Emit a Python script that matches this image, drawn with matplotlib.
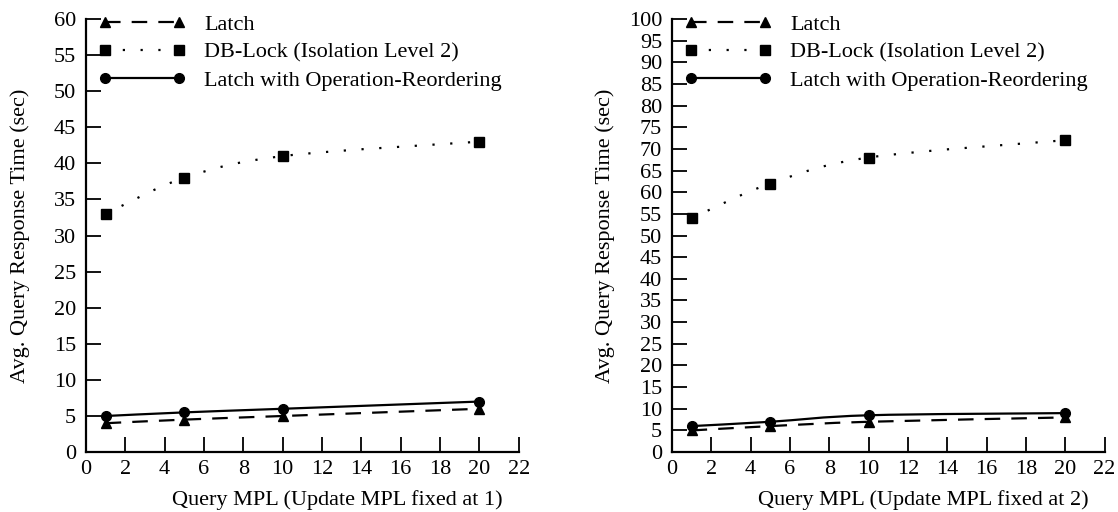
#!/usr/bin/env python3
"""Query response time vs query MPL, two panels."""

import matplotlib
matplotlib.use("Agg")
import matplotlib.pyplot as plt
import numpy as np
from matplotlib.path import Path
from matplotlib.patches import PathPatch
from matplotlib.lines import Line2D

plt.rcParams["font.family"] = ["Liberation Serif", "DejaVu Serif"]
plt.rcParams["font.size"] = 16

query_mpl = [1, 5, 10, 20]

# update MPL fixed at 1
latch_1 = [4, 4.5, 5, 6]
dblock_1 = [33, 38, 41, 43]
reorder_1 = [5, 5.5, 6, 7]

# update MPL fixed at 2
latch_2 = [5, 6, 7, 8]
dblock_2 = [54, 62, 68, 72]
reorder_2 = [6, 7, 8.5, 9]

labels = ["Latch", "DB-Lock (Isolation Level 2)", "Latch with Operation-Reordering"]
styles = [((0, (7, 5)), "^"), ((0, (1, 7)), "s"), ("-", "o")]


def smooth_path(xs, ys):
    # catmull-rom style bezier segments through the data points
    xs = np.asarray(xs, float)
    ys = np.asarray(ys, float)
    n = len(xs)
    verts = [(xs[0], ys[0])]
    codes = [Path.MOVETO]
    for i in range(n - 1):
        i0 = max(i - 1, 0)
        i3 = min(i + 2, n - 1)
        c1 = (xs[i] + (xs[i + 1] - xs[i0]) / 6, ys[i] + (ys[i + 1] - ys[i0]) / 6)
        c2 = (xs[i + 1] - (xs[i3] - xs[i]) / 6, ys[i + 1] - (ys[i3] - ys[i]) / 6)
        verts += [c1, c2, (xs[i + 1], ys[i + 1])]
        codes += [Path.CURVE4] * 3
    return Path(verts, codes)


def draw_panel(ax, series, ymax, xlabel):
    handles = []
    for ys, (ls, mk) in zip(series, styles):
        patch = PathPatch(smooth_path(query_mpl, ys), fill=False, edgecolor="black",
                          linewidth=1.6, linestyle=ls)
        ax.add_patch(patch)
        ax.plot(query_mpl, ys, linestyle="none", marker=mk, color="black", markersize=7)
        handles.append(Line2D([], [], color="black", linestyle=ls, linewidth=1.6,
                              marker=mk, markersize=7))
    ax.set_xlim(0, 22)
    ax.set_ylim(0, ymax)
    ax.set_xticks(range(0, 23, 2))
    ax.set_yticks(range(0, ymax + 1, 5))
    ax.spines["top"].set_visible(False)
    ax.spines["right"].set_visible(False)
    for s in ("left", "bottom"):
        ax.spines[s].set_linewidth(1.6)
    ax.tick_params(direction="in", length=11, width=1.3)
    ax.tick_params(axis="y", pad=7)
    ax.tick_params(axis="x", pad=6)
    ax.set_xlabel(xlabel)
    ax.xaxis.set_label_coords(0.58, -0.088)
    ax.set_ylabel("Avg. Query Response Time (sec)")
    ax.yaxis.label.set_va("center")
    ax.legend(handles, labels, loc="upper left", frameon=False, numpoints=2,
              handlelength=3.9, handletextpad=0.85, labelspacing=0.35,
              borderaxespad=0.0, bbox_to_anchor=(0.009, 1.032))


fig = plt.figure(figsize=(11.18, 5.12), dpi=100)
ax1 = fig.add_axes([0.0769, 0.117, 0.387, 0.846])
ax2 = fig.add_axes([0.601, 0.117, 0.387, 0.846])

draw_panel(ax1, [latch_1, dblock_1, reorder_1], 60, "Query MPL (Update MPL fixed at 1)")
draw_panel(ax2, [latch_2, dblock_2, reorder_2], 100, "Query MPL (Update MPL fixed at 2)")
ax1.yaxis.set_label_coords(-0.152, 0.5)
ax2.yaxis.set_label_coords(-0.155, 0.5)

fig.savefig("out.png", dpi=100)
